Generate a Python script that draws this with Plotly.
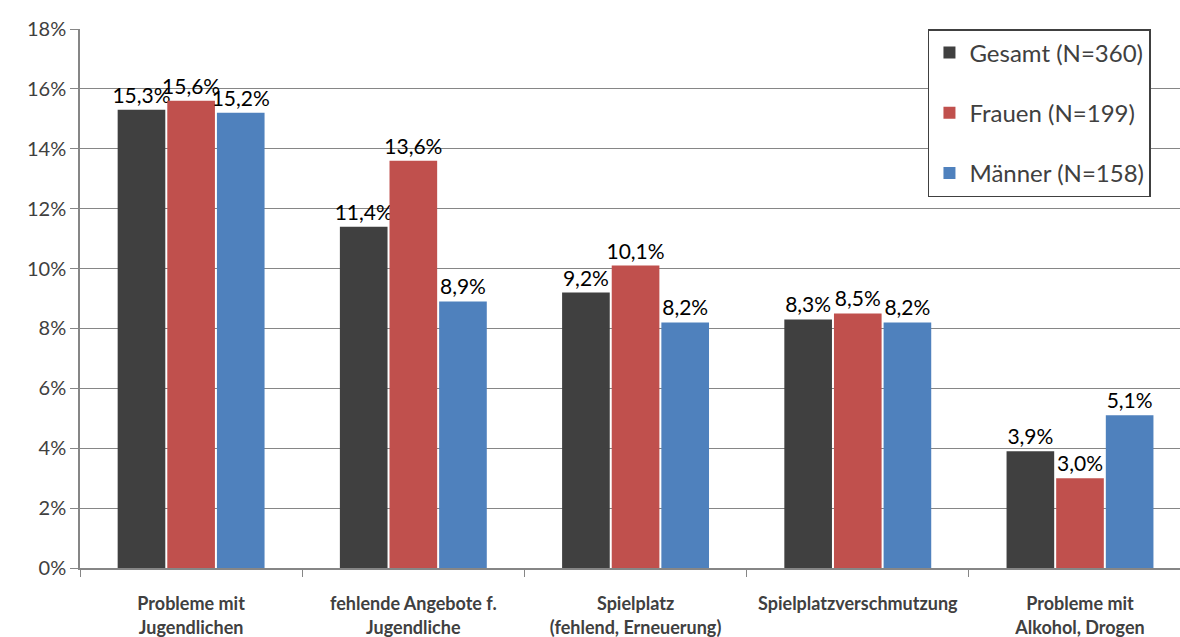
import plotly.graph_objects as go

categories = [
    "Probleme mit<br>Jugendlichen",
    "fehlende Angebote f.<br>Jugendliche",
    "Spielplatz<br>(fehlend, Erneuerung)",
    "Spielplatzverschmutzung",
    "Probleme mit<br>Alkohol, Drogen",
]
series_names = ["Gesamt (N=360)", "Frauen (N=199)", "Männer (N=158)"]
gesamt = [15.3, 11.4, 9.2, 8.3, 3.9]
frauen = [15.6, 13.6, 10.1, 8.5, 3.0]
maenner = [15.2, 8.9, 8.2, 8.2, 5.1]
colors = ["#404040", "#C0504D", "#4F81BD"]
y_ticks = [0, 2, 4, 6, 8, 10, 12, 14, 16, 18]
y_ticktext = [f"{v}%" for v in y_ticks]

FONT = "Lato"
fig = go.Figure()
for name, vals, col in zip(series_names, [gesamt, frauen, maenner], colors):
    fig.add_trace(go.Bar(
        x=categories, y=vals, name=name, legendgroup=name,
        marker=dict(color=col, line=dict(width=0)),
        texttemplate="%{y:.1f}%", textposition="outside",
        textfont=dict(family=FONT, size=21, color="#000000"),
        constraintext="none", cliponaxis=False,
    ))

fig.update_layout(
    width=1180, height=637,
    margin=dict(l=80, r=0, t=29, b=69),
    paper_bgcolor="white", plot_bgcolor="white",
    separators=",.",
    barmode="group", bargap=0.33, bargroupgap=0.04,
    font=dict(family=FONT, color="#404040"),
    showlegend=True,
    legend=dict(
        x=0.9736, xanchor="right", y=1.0, yanchor="top",
        xref="paper", yref="paper",
        bordercolor="#404040", borderwidth=1.5, bgcolor="white",
        font=dict(family=FONT, size=24, color="#404040"),
        traceorder="grouped", tracegroupgap=26,
    ),
    xaxis=dict(
        type="category", range=[-0.5, 4.45],
        showline=True, linecolor="#868686", linewidth=1.5,
        ticks="outside", tickson="boundaries", ticklen=7, tickcolor="#868686",
        tickfont=dict(family=FONT, size=18, color="#404040", weight="bold"),
        ticklabelstandoff=19,
        showgrid=False,
    ),
    yaxis=dict(
        range=[0, 18], tickvals=y_ticks, ticktext=y_ticktext,
        showline=True, linecolor="#868686", linewidth=1.5,
        ticks="outside", ticklen=8, tickcolor="#868686",
        showgrid=True, gridcolor="#868686", gridwidth=1,
        tickfont=dict(family=FONT, size=20, color="#404040"),
        zeroline=False,
    ),
)
fig.write_html("out.html")
